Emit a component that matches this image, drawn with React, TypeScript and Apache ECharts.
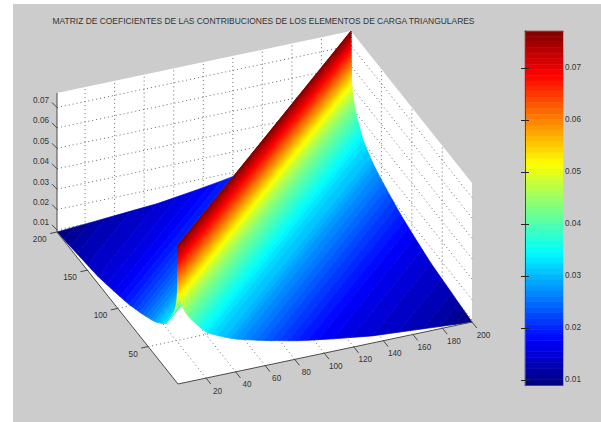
import React, { useEffect, useRef } from "react";
import * as echarts from "echarts";

const titleText = "MATRIZ DE COEFICIENTES DE LAS CONTRIBUCIONES DE LOS ELEMENTOS DE CARGA TRIANGULARES";
const xTicks = [20, 40, 60, 80, 100, 120, 140, 160, 180, 200];
const yTicks = [50, 100, 150, 200];
const zTicks = [0.01, 0.02, 0.03, 0.04, 0.05, 0.06, 0.07];
const gridRange = [1, 200];
const zRange = [0.009, 0.0771];

// Colour value at each colour-level boundary
const ridgeValue = [
  0.0771, 0.076, 0.075, 0.0739, 0.0728, 0.0718, 0.0707, 0.0697, 0.0686, 0.0675, 0.0665, 0.0654, 0.0643,
  0.0633, 0.0622, 0.0611, 0.0601, 0.059, 0.0579, 0.0569, 0.0558, 0.0547, 0.0537, 0.0526, 0.0516, 0.0505,
  0.0494, 0.0484, 0.0473, 0.0462, 0.0452, 0.0441, 0.0431, 0.042, 0.0409, 0.0399, 0.0388, 0.0377, 0.0367,
  0.0356, 0.0345, 0.0335, 0.0324, 0.0314, 0.0303, 0.0292, 0.0282, 0.0271, 0.026, 0.025, 0.0239, 0.0229,
  0.0218, 0.0207, 0.0197, 0.0186, 0.0175, 0.0165, 0.0154, 0.0143, 0.0133, 0.0122, 0.0111, 0.0101, 0.009,
];
// Distance |i-j| from the diagonal where each boundary falls
const ridgeDistance = [
  0, 0.044, 0.09, 0.13, 0.18, 0.22, 0.27, 0.31, 0.35, 0.4, 0.44, 0.48, 0.53,
  0.57, 0.62, 0.66, 0.71, 0.75, 0.8, 0.84, 0.88, 0.93, 0.97, 1.1, 1.35, 1.63,
  1.9, 2.24, 2.68, 3.2, 3.93, 4.71, 5.55, 6.55, 8, 9.4, 11, 12.6, 14,
  15.8, 18, 20, 23.2, 26.9, 32, 35.5, 38.7, 43.2, 48.2, 52.9, 58, 63,
  68.5, 74.7, 80.6, 87.8, 95, 105, 117.2, 131.5, 149, 166, 177, 187.4, 199,
];
const ridgeHeight = [
  0.0771, 0.076, 0.075, 0.0739, 0.0728, 0.0718, 0.0707, 0.0697, 0.0686, 0.0675, 0.0665, 0.0654, 0.0643,
  0.0633, 0.0622, 0.0611, 0.0601, 0.059, 0.0579, 0.0569, 0.0558, 0.0547, 0.0537, 0.0526, 0.0516, 0.0505,
  0.0494, 0.0484, 0.0473, 0.0462, 0.0451, 0.0439, 0.0428, 0.0416, 0.0402, 0.039, 0.0377, 0.0364, 0.0353,
  0.0339, 0.0324, 0.031, 0.0299, 0.0286, 0.027, 0.026, 0.0252, 0.0242, 0.0233, 0.0224, 0.0215, 0.0206,
  0.0198, 0.0188, 0.0179, 0.017, 0.0162, 0.0151, 0.0139, 0.0125, 0.0116, 0.0107, 0.0101, 0.0096, 0.009,
];

const FONT = '8.2px "Liberation Sans", Arial, sans-serif';
const TEXT = "#333333";
const AXIS = "#4a4a4a";
const GRID = "#6a6a6a";

// Orthographic view of the 3D box, in page pixels
const O = { x: 178, y: 384 };
const perX = { x: 294 / 199, y: -62 / 199 };
const perY = { x: -121 / 199, y: -152 / 199 };
const perZ = 139 / (zRange[1] - zRange[0]);
const project = (x: number, y: number, z: number) => [
  O.x + (x - 1) * perX.x + (y - 1) * perY.x,
  O.y + (x - 1) * perX.y + (y - 1) * perY.y - (z - zRange[0]) * perZ,
];

const jet = (u: number) => {
  const c = (v: number) => Math.round(255 * Math.max(0, Math.min(1, 1.5 - Math.abs(v))));
  return `rgb(${c(4 * u - 3)},${c(4 * u - 2)},${c(4 * u - 1)})`;
};
const levelColor = (k: number) => jet((ridgeValue.length - 2 - k + 0.5) / (ridgeValue.length - 1));

export default function App() {
  const ref = useRef<HTMLDivElement>(null);
  useEffect(() => {
    document.body.style.margin = "0";
    const chart = echarts.init(ref.current!, undefined, { renderer: "svg" });
    const [lo, hi] = gridRange;
    const [zLo, zHi] = zRange;
    const levels = ridgeValue.slice(0, -1).map((_, k) => k);

    const polyAt = (api: any, pts: number[][]) => pts.map((p) => api.coord(project(p[0], p[1], p[2])));
    const dotted = (api: any, a: number[], b: number[]) => ({
      type: "line",
      silent: true,
      shape: (() => {
        const [p, q] = polyAt(api, [a, b]);
        return { x1: p[0], y1: p[1], x2: q[0], y2: q[1] };
      })(),
      style: { stroke: GRID, lineWidth: 1, lineDash: [1, 3], fill: "none" },
    });

    const backdrop = (_: any, api: any) => ({
      type: "group",
      children: [
        {
          type: "polygon",
          shape: {
            points: polyAt(api, [
              [lo, hi, zLo], [lo, hi, zHi], [hi, hi, zHi], [hi, lo, zHi], [hi, lo, zLo], [lo, lo, zLo],
            ]),
          },
          style: { fill: "#ffffff" },
        },
        ...xTicks.flatMap((x) => [
          dotted(api, [x, lo, zLo], [x, hi, zLo]),
          dotted(api, [x, hi, zLo], [x, hi, zHi]),
        ]),
        ...yTicks.flatMap((y) => [
          dotted(api, [lo, y, zLo], [hi, y, zLo]),
          dotted(api, [hi, y, zLo], [hi, y, zHi]),
        ]),
        ...zTicks.flatMap((z) => [
          dotted(api, [lo, hi, z], [hi, hi, z]),
          dotted(api, [hi, lo, z], [hi, hi, z]),
        ]),
      ],
    });

    const strip = (side: "left" | "right") => (params: any, api: any) => {
      const k = params.dataIndex;
      const d1 = ridgeDistance[k], d2 = ridgeDistance[k + 1];
      const z1 = ridgeHeight[k], z2 = ridgeHeight[k + 1];
      const pts =
        side === "right"
          ? [[lo + d1, lo, z1], [hi, hi - d1, z1], [hi, hi - d2, z2], [lo + d2, lo, z2]]
          : [[lo, lo + d1, z1], [hi - d1, hi, z1], [hi - d2, hi, z2], [lo, lo + d2, z2]];
      const color = levelColor(k);
      return {
        type: "polygon",
        shape: { points: polyAt(api, pts) },
        style: { fill: color, stroke: color, lineWidth: 0.7 },
      };
    };

    const frame = (_: any, api: any) => {
      const seg = (a: number[], b: number[]) => {
        const [p, q] = polyAt(api, [a, b]);
        return {
          type: "line",
          shape: { x1: p[0], y1: p[1], x2: q[0], y2: q[1] },
          style: { stroke: AXIS, lineWidth: 1, fill: "none" },
        };
      };
      const tick = (a: number[], dx: number, dy: number) => {
        const p = api.coord(project(a[0], a[1], a[2]));
        return {
          type: "line",
          shape: { x1: p[0], y1: p[1], x2: p[0] + dx, y2: p[1] + dy },
          style: { stroke: AXIS, lineWidth: 1, fill: "none" },
        };
      };
      const label = (a: number[], dx: number, dy: number, text: string, align: string) => {
        const p = api.coord(project(a[0], a[1], a[2]));
        return {
          type: "text",
          style: {
            text, x: p[0] + dx, y: p[1] + dy, align, verticalAlign: "middle",
            font: FONT, fill: TEXT,
          },
        };
      };
      return {
        type: "group",
        children: [
          seg([lo, hi, zLo], [lo, hi, zHi]),
          seg([lo, hi, zLo], [lo, lo, zLo]),
          seg([lo, lo, zLo], [hi, lo, zLo]),
          ...xTicks.flatMap((x) => [
            tick([x, lo, zLo], 4.8, 6),
            label([x, lo, zLo], 11.5, 13, String(x), "center"),
          ]),
          ...yTicks.flatMap((y) => [
            tick([lo, y, zLo], -7, 1.5),
            label([lo, y, zLo], -10.5, 7.5, String(y), "right"),
          ]),
          ...zTicks.flatMap((z) => [
            tick([lo, hi, z], -5, -5),
            label([lo, hi, z], -8, -7, z.toFixed(2), "right"),
          ]),
        ],
      };
    };

    const colorBand = (params: any, api: any) => {
      const k = params.dataIndex;
      const a = api.coord([0, ridgeValue[k]]);
      const b = api.coord([1, ridgeValue[k + 1]]);
      const color = levelColor(k);
      return {
        type: "rect",
        shape: { x: a[0], y: a[1], width: b[0] - a[0], height: b[1] - a[1] },
        style: { fill: color, stroke: color, lineWidth: 0.5 },
      };
    };

    const scene = { xAxisIndex: 0, yAxisIndex: 0, type: "custom" as const, silent: true };

    chart.setOption({
      animation: false,
      backgroundColor: "#ffffff",
      title: {
        text: titleText,
        left: 258.5,
        top: 12,
        textAlign: "center",
        textStyle: { fontFamily: '"Liberation Sans", Arial, sans-serif', fontSize: 8.45, fontWeight: "normal", color: "#333333" },
      },
      graphic: [
        { type: "rect", z: -10, silent: true, shape: { x: 13, y: 4, width: 588, height: 418 }, style: { fill: "#cccccc" } },
      ],
      grid: [
        { left: 0, top: 0, width: 601, height: 422 },
        { left: 525, top: 31, width: 38, height: 354 },
      ],
      xAxis: [
        { type: "value", gridIndex: 0, min: 0, max: 601, show: false },
        {
          type: "value", gridIndex: 1, min: 0, max: 1, position: "bottom", z: 5,
          axisLine: { show: true, lineStyle: { color: AXIS } },
          axisTick: { show: false }, axisLabel: { show: false }, splitLine: { show: false },
        },
        {
          type: "value", gridIndex: 1, min: 0, max: 1, position: "top", z: 5,
          axisLine: { show: true, lineStyle: { color: AXIS } },
          axisTick: { show: false }, axisLabel: { show: false }, splitLine: { show: false },
        },
      ],
      yAxis: [
        { type: "value", gridIndex: 0, min: 0, max: 422, inverse: true, show: false },
        {
          type: "value", gridIndex: 1, min: zLo, max: zHi, position: "left", z: 5,
          axisLine: { show: true, lineStyle: { color: AXIS } },
          axisTick: { show: true, inside: true, length: 4, customValues: zTicks, lineStyle: { color: "#222" } },
          axisLabel: { show: false },
          splitLine: { show: false },
        },
        {
          type: "value", gridIndex: 1, min: zLo, max: zHi, position: "right", z: 5,
          axisLine: { show: true, lineStyle: { color: AXIS } },
          axisTick: { show: true, inside: true, length: 4, customValues: zTicks, lineStyle: { color: "#222" } },
          axisLabel: {
            show: true, inside: false, margin: 2, color: TEXT, fontSize: 8.2,
            fontFamily: '"Liberation Sans", Arial, sans-serif',
            customValues: zTicks, formatter: (v: number) => v.toFixed(2),
          },
          splitLine: { show: false },
        },
      ],
      series: [
        { ...scene, name: "walls", data: [0], renderItem: backdrop, z: 1 },
        { ...scene, name: "left", data: levels.slice().reverse(), renderItem: (p: any, api: any) => strip("left")({ dataIndex: levels.length - 1 - p.dataIndex }, api), z: 2 },
        { ...scene, name: "right", data: levels, renderItem: strip("right"), z: 3 },
        { ...scene, name: "frame", data: [0], renderItem: frame, z: 4 },
        { type: "custom", silent: true, name: "colorbar", xAxisIndex: 1, yAxisIndex: 1, data: levels, renderItem: colorBand, z: 2 },
      ],
    });
    return () => chart.dispose();
  }, []);
  return <div ref={ref} style={{ position: "fixed", left: 0, top: 0, width: 601, height: 422 }} />;
}
